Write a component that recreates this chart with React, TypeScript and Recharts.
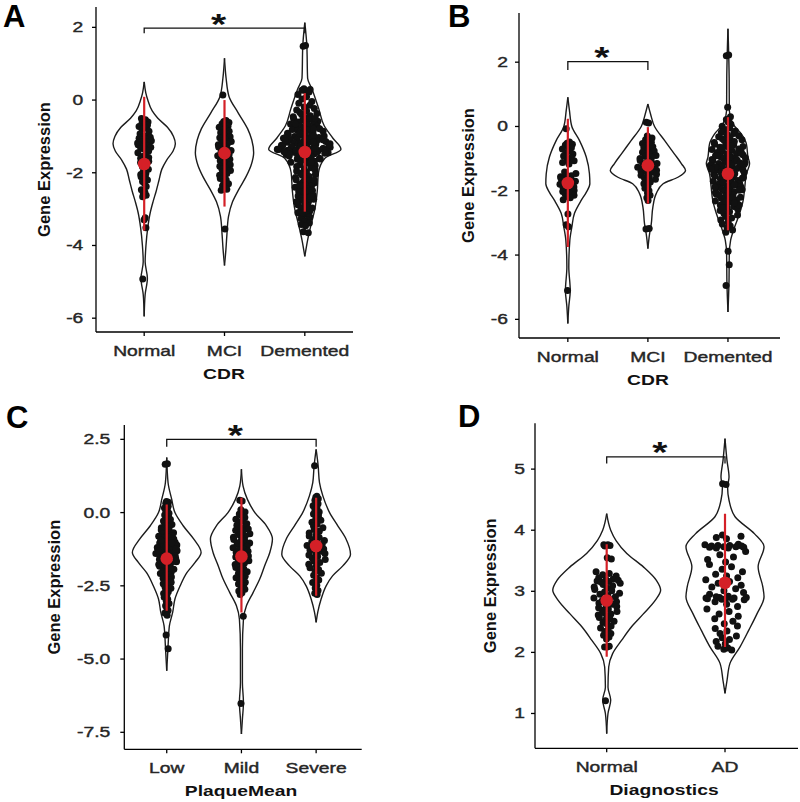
import React from "react";
import { ComposedChart, Scatter, XAxis, YAxis } from "recharts";

const W = 800;
const H = 802;
const AXIS_W = 50;
const AXIS_H = 40;
const FONT = "'Liberation Sans', Arial, Helvetica, sans-serif";
const RED = "#d42027";
const INK = "#1c1c1c";
const STRETCH = 1.33;

// categories
const CDR_LABELS = ["Normal", "MCI", "Demented"];
const PLAQUE_LABELS = ["Low", "Mild", "Severe"];
const DIAG_LABELS = ["Normal", "AD"];

// y ticks
const TICKS_A = [-6, -4, -2, 0, 2];
const TICKS_B = [-6, -4, -2, 0, 2];
const TICKS_C = [-7.5, -5, -2.5, 0, 2.5];
const TICKS_D = [1, 2, 3, 4, 5];

// violin outlines: [value, half width in category units]
type Profile = [number, number][];
const A_NORMAL_SHAPE: Profile = [[0.5, 0], [0.2, 0.02], [0, 0.045], [-0.3, 0.1], [-0.5, 0.17], [-0.75, 0.29], [-1.0, 0.365], [-1.2, 0.388], [-1.4, 0.36], [-1.65, 0.28], [-1.9, 0.22], [-2.2, 0.185], [-2.5, 0.15], [-2.8, 0.11], [-3.1, 0.075], [-3.5, 0.045], [-4.0, 0.022], [-4.45, 0.012], [-4.9, 0.04], [-5.35, 0.012], [-5.95, 0]];
const A_MCI_SHAPE: Profile = [[1.15, 0], [0.6, 0.02], [0.1, 0.056], [-0.35, 0.17], [-0.8, 0.29], [-1.1, 0.34], [-1.45, 0.363], [-1.8, 0.33], [-2.1, 0.27], [-2.45, 0.18], [-2.8, 0.1], [-3.2, 0.05], [-3.7, 0.03], [-4.1, 0.018], [-4.55, 0]];
const A_DEM_SHAPE: Profile = [[2.13, 0], [1.5, 0.025], [0.6, 0.035], [0.3, 0.09], [-0.25, 0.175], [-0.7, 0.24], [-1.05, 0.35], [-1.35, 0.45], [-1.6, 0.25], [-2.0, 0.17], [-2.5, 0.155], [-3.0, 0.125], [-3.45, 0.075], [-3.85, 0.035], [-4.3, 0]];
const B_NORMAL_SHAPE: Profile = [[0.91, 0], [0.5, 0.02], [0, 0.05], [-0.44, 0.146], [-0.95, 0.23], [-1.47, 0.27], [-1.78, 0.275], [-2.05, 0.23], [-2.3, 0.167], [-2.7, 0.083], [-3.13, 0.05], [-3.54, 0.025], [-4.37, 0.012], [-5.1, 0.03], [-5.6, 0.012], [-6.13, 0]];
const B_MCI_SHAPE: Profile = [[0.7, 0], [0.39, 0.033], [0, 0.083], [-0.44, 0.21], [-0.85, 0.33], [-1.16, 0.42], [-1.37, 0.47], [-1.58, 0.375], [-1.78, 0.19], [-2.09, 0.104], [-2.5, 0.0625], [-3.03, 0.042], [-3.34, 0.021], [-3.8, 0]];
const B_DEM_SHAPE: Profile = [[3.04, 0], [1.5, 0.015], [0.5, 0.017], [0.08, 0.0625], [-0.23, 0.167], [-0.54, 0.23], [-0.95, 0.25], [-1.16, 0.27], [-1.47, 0.23], [-1.89, 0.21], [-2.3, 0.19], [-2.7, 0.146], [-3.13, 0.083], [-3.54, 0.033], [-3.96, 0.017], [-4.9, 0.0125], [-5.77, 0]];
const C_LOW_SHAPE: Profile = [[1.88, 0], [1.02, 0.018], [0.45, 0.067], [0, 0.11], [-0.45, 0.22], [-0.9, 0.36], [-1.36, 0.46], [-1.7, 0.38], [-2.05, 0.27], [-2.5, 0.18], [-2.95, 0.11], [-3.4, 0.08], [-3.86, 0.036], [-4.55, 0.018], [-5.4, 0]];
const C_MILD_SHAPE: Profile = [[1.48, 0], [0.9, 0.022], [0.45, 0.08], [0, 0.18], [-0.45, 0.335], [-0.9, 0.415], [-1.36, 0.38], [-1.82, 0.31], [-2.27, 0.245], [-2.73, 0.156], [-3.18, 0.067], [-3.64, 0.027], [-4.66, 0.013], [-5.8, 0.013], [-6.48, 0.027], [-7.05, 0.013], [-7.56, 0]];
const C_SEV_SHAPE: Profile = [[2.16, 0], [1.6, 0.027], [1.02, 0.045], [0.57, 0.09], [0, 0.18], [-0.45, 0.29], [-0.9, 0.4], [-1.42, 0.46], [-1.82, 0.357], [-2.16, 0.22], [-2.5, 0.134], [-2.95, 0.067], [-3.4, 0.022], [-3.75, 0]];
const D_NORMAL_SHAPE: Profile = [[4.27, 0], [4.0, 0.034], [3.83, 0.079], [3.62, 0.17], [3.4, 0.31], [3.18, 0.42], [3.02, 0.456], [2.85, 0.41], [2.63, 0.31], [2.42, 0.21], [2.2, 0.127], [1.98, 0.05], [1.76, 0.017], [1.43, 0.011], [1.22, 0.034], [1.0, 0.011], [0.67, 0]];
const D_AD_SHAPE: Profile = [[5.5, 0], [5.14, 0.017], [4.87, 0.034], [4.7, 0.022], [4.49, 0.034], [4.22, 0.085], [3.94, 0.25], [3.73, 0.33], [3.4, 0.28], [3.07, 0.32], [2.91, 0.33], [2.63, 0.27], [2.36, 0.2], [2.09, 0.127], [1.82, 0.042], [1.54, 0.017], [1.33, 0]];

// individual samples
const A_NORMAL_DOTS = [-0.51, -0.54, -0.56, -0.6, -0.63, -0.65, -0.69, -0.73, -0.77, -0.8, -0.86, -0.93, -0.97, -1.0, -1.02, -1.05, -1.07, -1.1, -1.12, -1.14, -1.16, -1.18, -1.2, -1.23, -1.25, -1.28, -1.3, -1.33, -1.36, -1.4, -1.45, -1.52, -1.55, -1.58, -1.6, -1.63, -1.65, -1.68, -1.72, -1.77, -1.83, -1.9, -1.98, -2.02, -2.05, -2.08, -2.11, -2.14, -2.17, -2.2, -2.24, -2.29, -2.38, -2.47, -2.53, -2.58, -2.62, -2.66, -3.24, -3.29, -3.51, -4.92];
const A_MCI_DOTS = [0.14, -0.56, -0.59, -0.62, -0.65, -0.68, -0.72, -0.75, -0.79, -0.83, -0.86, -0.9, -0.94, -0.98, -1.01, -1.04, -1.08, -1.11, -1.14, -1.17, -1.2, -1.23, -1.26, -1.29, -1.33, -1.36, -1.39, -1.43, -1.46, -1.5, -1.53, -1.57, -1.6, -1.63, -1.67, -1.7, -1.74, -1.78, -1.82, -1.86, -1.9, -1.94, -1.98, -2.02, -2.07, -2.12, -2.16, -2.2, -2.25, -2.3, -2.36, -2.41, -2.45, -2.48, -3.55];
const A_DEM_DOTS = [1.48, 1.5, 0.31, 0.29, 0.27, 0.26, 0.22, 0.15, 0.09, 0.03, -0.04, -0.09, -0.14, -0.19, -0.23, -0.27, -0.3, -0.34, -0.37, -0.4, -0.43, -0.46, -0.48, -0.51, -0.53, -0.55, -0.58, -0.6, -0.62, -0.64, -0.66, -0.68, -0.7, -0.72, -0.74, -0.76, -0.77, -0.79, -0.81, -0.83, -0.84, -0.86, -0.88, -0.89, -0.91, -0.93, -0.94, -0.96, -0.97, -0.99, -1.0, -1.02, -1.03, -1.05, -1.06, -1.08, -1.09, -1.1, -1.12, -1.13, -1.14, -1.16, -1.17, -1.18, -1.2, -1.21, -1.22, -1.24, -1.25, -1.26, -1.27, -1.29, -1.3, -1.31, -1.32, -1.33, -1.35, -1.36, -1.37, -1.38, -1.38, -1.39, -1.4, -1.41, -1.42, -1.43, -1.44, -1.45, -1.47, -1.48, -1.5, -1.52, -1.54, -1.56, -1.58, -1.6, -1.63, -1.65, -1.68, -1.71, -1.74, -1.77, -1.8, -1.83, -1.86, -1.89, -1.92, -1.95, -1.98, -2.01, -2.04, -2.07, -2.1, -2.13, -2.16, -2.19, -2.22, -2.25, -2.28, -2.31, -2.34, -2.37, -2.4, -2.43, -2.46, -2.49, -2.52, -2.55, -2.58, -2.61, -2.64, -2.67, -2.7, -2.73, -2.76, -2.79, -2.82, -2.85, -2.88, -2.91, -2.94, -2.97, -3.0, -3.03, -3.06, -3.1, -3.14, -3.18, -3.22, -3.26, -3.3, -3.34, -3.38, -3.42, -3.46, -3.62, -3.65, -0.92, -0.98, -1.04, -1.07, -1.11, -1.15, -1.19, -1.23, -1.28, -1.3, -1.34, -1.36, -1.37, -1.39, -1.4, -1.41, -1.43, -1.44, -1.46, -1.49, -1.53, -1.57, -1.62, -1.67, -1.72, -1.35, -1.38, -1.42, -1.33, -1.26, -2.2, -2.35, -2.5, -2.65, -2.8, -2.95, -3.1, -0.5, -0.65, -0.8];
const B_NORMAL_DOTS = [-0.07, -0.48, -0.52, -0.55, -0.58, -0.62, -0.66, -0.7, -0.77, -0.82, -0.86, -0.92, -0.97, -1.02, -1.07, -1.12, -1.17, -1.42, -1.46, -1.5, -1.53, -1.56, -1.59, -1.62, -1.64, -1.67, -1.7, -1.72, -1.75, -1.77, -1.8, -1.82, -1.85, -1.88, -1.9, -1.93, -1.96, -1.99, -2.02, -2.06, -2.1, -2.14, -2.18, -2.22, -2.28, -2.72, -3.06, -3.12, -5.1];
const B_MCI_DOTS = [0.13, 0.11, -0.3, -0.36, -0.41, -0.45, -0.49, -0.53, -0.56, -0.6, -0.63, -0.66, -0.7, -0.73, -0.76, -0.8, -0.83, -0.86, -0.9, -0.93, -0.96, -1.0, -1.03, -1.06, -1.09, -1.12, -1.15, -1.18, -1.21, -1.24, -1.27, -1.3, -1.33, -1.36, -1.39, -1.42, -1.45, -1.49, -1.52, -1.56, -1.6, -1.64, -1.68, -1.73, -1.78, -1.85, -1.92, -2.0, -2.07, -2.14, -2.22, -2.3, -3.17, -3.19];
const B_DEM_DOTS = [2.2, 2.22, 0.6, 0.3, 0.22, 0.14, 0.07, 0.01, -0.05, -0.1, -0.14, -0.18, -0.22, -0.26, -0.29, -0.32, -0.35, -0.38, -0.41, -0.44, -0.47, -0.5, -0.52, -0.55, -0.57, -0.6, -0.62, -0.65, -0.67, -0.7, -0.72, -0.74, -0.77, -0.79, -0.81, -0.84, -0.86, -0.88, -0.9, -0.93, -0.95, -0.97, -0.99, -1.01, -1.03, -1.05, -1.07, -1.09, -1.11, -1.13, -1.15, -1.17, -1.19, -1.21, -1.23, -1.25, -1.27, -1.29, -1.31, -1.33, -1.35, -1.37, -1.39, -1.41, -1.43, -1.45, -1.47, -1.49, -1.52, -1.54, -1.56, -1.58, -1.61, -1.63, -1.65, -1.68, -1.7, -1.72, -1.75, -1.77, -1.8, -1.82, -1.85, -1.87, -1.9, -1.92, -1.95, -1.97, -2.0, -2.03, -2.05, -2.08, -2.11, -2.14, -2.17, -2.2, -2.23, -2.26, -2.29, -2.32, -2.35, -2.38, -2.42, -2.45, -2.49, -2.53, -2.57, -2.61, -2.65, -2.7, -2.75, -2.8, -2.85, -2.91, -2.97, -3.03, -3.09, -3.15, -3.22, -3.29, -3.88, -4.3, -4.95, -0.61, -0.68, -0.83, -0.91, -1.04, -1.12, -1.18, -1.26, -1.38, -1.46, -1.59, -1.66, -1.81, -1.88, -2.02, -2.09, -2.21, -2.33, -2.44, -2.52, -0.96, -1.14, -1.33, -1.57, -1.74, -1.98, -2.13, -2.37];
const C_LOW_DOTS = [1.65, 1.67, 0.38, 0.35, 0.32, 0.28, 0.22, 0.16, 0.1, 0.04, -0.02, -0.08, -0.14, -0.19, -0.24, -0.29, -0.33, -0.37, -0.41, -0.45, -0.49, -0.52, -0.56, -0.59, -0.62, -0.66, -0.69, -0.72, -0.75, -0.78, -0.81, -0.84, -0.87, -0.9, -0.93, -0.96, -0.98, -1.01, -1.04, -1.06, -1.09, -1.11, -1.14, -1.16, -1.19, -1.21, -1.23, -1.26, -1.28, -1.3, -1.33, -1.35, -1.37, -1.4, -1.42, -1.44, -1.47, -1.49, -1.52, -1.54, -1.57, -1.6, -1.62, -1.65, -1.68, -1.71, -1.74, -1.77, -1.8, -1.83, -1.86, -1.9, -1.93, -1.97, -2.0, -2.04, -2.08, -2.12, -2.16, -2.2, -2.24, -2.29, -2.33, -2.38, -2.43, -2.48, -2.53, -2.58, -2.64, -2.7, -2.76, -2.82, -2.89, -2.96, -3.03, -3.1, -3.18, -3.26, -3.34, -3.43, -3.5, -4.18, -4.65, -0.94, -1.03, -1.17, -1.24, -1.31, -1.46, -1.53, -1.66, -1.79, -1.91];
const C_MILD_DOTS = [0.42, 0.4, 0.1, 0.02, -0.05, -0.11, -0.17, -0.23, -0.28, -0.33, -0.38, -0.43, -0.48, -0.52, -0.56, -0.6, -0.64, -0.68, -0.72, -0.76, -0.8, -0.84, -0.88, -0.92, -0.96, -1.0, -1.04, -1.08, -1.12, -1.16, -1.2, -1.24, -1.28, -1.32, -1.36, -1.4, -1.44, -1.48, -1.52, -1.56, -1.6, -1.64, -1.68, -1.72, -1.77, -1.82, -1.87, -1.92, -1.97, -2.02, -2.07, -2.12, -2.17, -2.22, -2.27, -2.32, -2.38, -2.44, -2.5, -2.56, -2.62, -2.68, -2.74, -2.8, -3.54, -6.52];
const C_SEV_DOTS = [1.6, 0.56, 0.52, 0.47, 0.42, 0.36, 0.3, 0.23, 0.16, 0.09, 0.02, -0.05, -0.12, -0.19, -0.26, -0.33, -0.4, -0.46, -0.52, -0.58, -0.64, -0.7, -0.75, -0.8, -0.85, -0.9, -0.95, -1.0, -1.04, -1.08, -1.12, -1.16, -1.2, -1.24, -1.28, -1.32, -1.36, -1.4, -1.45, -1.5, -1.55, -1.6, -1.65, -1.7, -1.76, -1.82, -1.88, -1.94, -2.0, -2.07, -2.14, -2.22, -2.3, -2.39, -2.48, -2.57, -2.66, -2.75, -2.8];
const D_NORMAL_DOTS = [3.76, 3.76, 3.75, 3.75, 3.74, 3.55, 3.53, 3.32, 3.29, 3.27, 3.25, 3.22, 3.2, 3.19, 3.18, 3.17, 3.16, 3.15, 3.13, 3.11, 3.09, 3.07, 3.05, 3.03, 3.01, 2.99, 2.97, 2.95, 2.93, 2.91, 2.89, 2.87, 2.85, 2.83, 2.81, 2.79, 2.77, 2.75, 2.73, 2.71, 2.69, 2.67, 2.65, 2.63, 2.61, 2.59, 2.57, 2.55, 2.53, 2.51, 2.49, 2.46, 2.43, 2.4, 2.37, 2.34, 2.31, 2.28, 2.25, 2.22, 2.1, 2.09, 2.09, 1.21];
const D_AD_DOTS = [4.76, 4.75, 3.92, 3.9, 3.88, 3.86, 3.77, 3.76, 3.75, 3.75, 3.74, 3.74, 3.73, 3.73, 3.72, 3.72, 3.71, 3.71, 3.65, 3.6, 3.56, 3.52, 3.48, 3.44, 3.4, 3.36, 3.32, 3.28, 3.25, 3.22, 3.19, 3.16, 3.13, 3.1, 3.07, 3.04, 3.01, 2.98, 2.95, 2.92, 2.91, 2.9, 2.9, 2.89, 2.89, 2.88, 2.88, 2.87, 2.87, 2.86, 2.83, 2.79, 2.75, 2.71, 2.67, 2.63, 2.59, 2.55, 2.51, 2.47, 2.43, 2.39, 2.35, 2.31, 2.27, 2.24, 2.21, 2.18, 2.14, 2.1, 2.07, 2.05, 2.04];

// group means and red bar ends
const A_MEAN = [-1.76, -1.46, -1.43];
const A_LOW = [-3.59, -2.93, -3.07];
const A_HIGH = [0.09, 0.0, 0.19];
const B_MEAN = [-1.76, -1.21, -1.47];
const B_LOW = [-3.75, -2.4, -3.23];
const B_HIGH = [0.24, -0.02, 0.29];
const C_MEAN = [-1.57, -1.5, -1.14];
const C_LOW = [-3.35, -3.41, -2.84];
const C_HIGH = [0.28, 0.51, 0.51];
const D_MEAN = [2.85, 3.14];
const D_LOW = [1.93, 2.09];
const D_HIGH = [3.77, 4.27];

// significance brackets: from, to, level, tip end
const A_SIG = [1, 3, 1.98, 1.84];
const B_SIG = [1, 2, 2.02, 1.76];
const C_SIG = [1, 3, 2.5, 2.25];
const D_SIG = [1, 2, 5.2, 5.09];

// horizontal jitter pattern for the dots
const JITTER = [-0.82, 0.35, -0.15, 0.91, -0.48, 0.08, 0.64, -0.95, 0.22, -0.33, 0.77, -0.62, 0.5, -0.05, 0.86, -0.71, 0.15, -0.4, 0.98, -0.25, 0.42, -0.88, 0.03];

type Group = { dots: number[]; shape: Profile; spread: number };
type Panel = {
  letter: string;
  letterPos: [number, number];
  labels: string[];
  xTitle: string;
  xTitleX: number;
  yTicks: number[];
  digits: number;
  groups: Group[];
  mean: number[];
  low: number[];
  high: number[];
  sig: number[];
  box: { left: number; right: number; top: number; bottom: number };
  xDomain: [number, number];
  yDomain: [number, number];
  tickGap: number;
  yTitleX: number;
};

const PANELS: Panel[] = [
  {
    letter: "A", letterPos: [3, 27], labels: CDR_LABELS, xTitle: "CDR", xTitleX: 224,
    yTicks: TICKS_A, digits: 0,
    groups: [
      { dots: A_NORMAL_DOTS, shape: A_NORMAL_SHAPE, spread: 0.24 },
      { dots: A_MCI_DOTS, shape: A_MCI_SHAPE, spread: 0.25 },
      { dots: A_DEM_DOTS, shape: A_DEM_SHAPE, spread: 0.8 },
    ],
    mean: A_MEAN, low: A_LOW, high: A_HIGH, sig: A_SIG,
    box: { left: 96, right: 353, top: 7, bottom: 332 },
    xDomain: [0.4, 3.6], yDomain: [-6.38, 2.56], tickGap: 12.7, yTitleX: 49.5,
  },
  {
    letter: "B", letterPos: [448, 27], labels: CDR_LABELS, xTitle: "CDR", xTitleX: 648,
    yTicks: TICKS_B, digits: 0,
    groups: [
      { dots: B_NORMAL_DOTS, shape: B_NORMAL_SHAPE, spread: 0.38 },
      { dots: B_MCI_DOTS, shape: B_MCI_SHAPE, spread: 0.3 },
      { dots: B_DEM_DOTS, shape: B_DEM_SHAPE, spread: 0.88 },
    ],
    mean: B_MEAN, low: B_LOW, high: B_HIGH, sig: B_SIG,
    box: { left: 519, right: 780, top: 13, bottom: 338 },
    xDomain: [0.39, 3.65], yDomain: [-6.58, 3.53], tickGap: 11, yTitleX: 474,
  },
  {
    letter: "C", letterPos: [6, 428], labels: PLAQUE_LABELS, xTitle: "PlaqueMean", xTitleX: 241,
    yTicks: TICKS_C, digits: 1,
    groups: [
      { dots: C_LOW_DOTS, shape: C_LOW_SHAPE, spread: 0.34 },
      { dots: C_MILD_DOTS, shape: C_MILD_SHAPE, spread: 0.3 },
      { dots: C_SEV_DOTS, shape: C_SEV_SHAPE, spread: 0.3 },
    ],
    mean: C_MEAN, low: C_LOW, high: C_HIGH, sig: C_SIG,
    box: { left: 124.3, right: 361.7, top: 425, bottom: 749.3 },
    xDomain: [0.432, 3.61], yDomain: [-8.08, 2.99], tickGap: 14, yTitleX: 59.5,
  },
  {
    letter: "D", letterPos: [458, 427], labels: DIAG_LABELS, xTitle: "Diagnostics", xTitleX: 664,
    yTicks: TICKS_D, digits: 0,
    groups: [
      { dots: D_NORMAL_DOTS, shape: D_NORMAL_SHAPE, spread: 0.27 },
      { dots: D_AD_DOTS, shape: D_AD_SHAPE, spread: 0.56 },
    ],
    mean: D_MEAN, low: D_LOW, high: D_HIGH, sig: D_SIG,
    box: { left: 535, right: 798, top: 423.3, bottom: 748.3 },
    xDomain: [0.394, 2.617], yDomain: [0.43, 5.75], tickGap: 10, yTitleX: 496,
  },
];

function widthAt(shape: Profile, v: number) {
  for (let i = 0; i < shape.length - 1; i++) {
    const [v0, w0] = shape[i];
    const [v1, w1] = shape[i + 1];
    if (v <= v0 && v >= v1) return w0 + ((v0 - v) / (v0 - v1)) * (w1 - w0);
  }
  return 0;
}

const noDot = () => <g />;
const blackDot = (p: any) => <circle cx={p.cx} cy={p.cy} r={3.5} fill="#111" />;
const meanDot = (p: any) => <circle cx={p.cx} cy={p.cy} r={6.3} fill={RED} />;
const star = (p: any) => (
  <text
    transform={`translate(${p.cx - 6},${p.cy + 5.6}) scale(1.3,1)`}
    textAnchor="middle"
    fontFamily={FONT}
    fontWeight="bold"
    fontSize={30}
    fill="#111"
  >
    *
  </text>
);

function XTick(props: any) {
  const { x, payload, labels, baseY } = props;
  return (
    <text
      transform={`translate(${x},${baseY}) scale(${STRETCH},1)`}
      textAnchor="middle"
      fontFamily={FONT}
      fontSize={14.5}
      fill="#262626"
      stroke="#262626"
      strokeWidth={0.4}
    >
      {labels[Math.round(payload.value) - 1]}
    </text>
  );
}

function YTick(props: any) {
  const { y, payload, rightX, digits } = props;
  return (
    <text
      transform={`translate(${rightX},${y + 5}) scale(${STRETCH},1)`}
      textAnchor="end"
      fontFamily={FONT}
      fontSize={14.5}
      fill="#262626"
      stroke="#262626"
      strokeWidth={0.4}
    >
      {Number(payload.value).toFixed(digits)}
    </text>
  );
}

function ViolinPanel({ p }: { p: Panel }) {
  const { box } = p;
  const margin = {
    left: box.left - AXIS_W,
    right: W - box.right,
    top: box.top,
    bottom: H - box.bottom - AXIS_H,
  };
  const meanData = p.mean.map((m, i) => ({ x: i + 1, y: m }));
  const [from, to, level, tip] = p.sig;
  const bracket = [
    { x: from, y: tip },
    { x: from, y: level },
    { x: to, y: level },
    { x: to, y: tip },
  ];
  const starData = [{ x: (from + to) / 2, y: level }];
  const axisStyle = { stroke: "#000", strokeWidth: 1.3 };

  const outlines = p.groups.flatMap((g, i) =>
    [-1, 1].map((side) => (
      <Scatter
        key={`v${i}${side}`}
        data={g.shape.map(([v, w]) => ({ x: i + 1 + side * w, y: v }))}
        fill={INK}
        line={{ stroke: INK, strokeWidth: 1.4 }}
        lineJointType="monotoneY"
        shape={noDot}
        isAnimationActive={false}
      />
    ))
  );
  const dots = p.groups.map((g, i) => (
    <Scatter
      key={`d${i}`}
      data={g.dots.map((v, k) => ({
        x: i + 1 + JITTER[k % JITTER.length] * Math.max(widthAt(g.shape, v) * g.spread, 0.025),
        y: v,
      }))}
      shape={blackDot}
      isAnimationActive={false}
    />
  ));
  const bars = p.mean.map((_, i) => (
    <Scatter
      key={`e${i}`}
      data={[
        { x: i + 1, y: p.low[i] },
        { x: i + 1, y: p.high[i] },
      ]}
      fill={RED}
      line={{ stroke: RED, strokeWidth: 2.2 }}
      shape={noDot}
      isAnimationActive={false}
    />
  ));

  return (
    <div style={{ position: "absolute", left: 0, top: 0 }}>
      <ComposedChart width={W} height={H} margin={margin}>
        <XAxis
          type="number"
          dataKey="x"
          domain={p.xDomain}
          allowDataOverflow
          ticks={p.labels.map((_, i) => i + 1)}
          interval={0}
          height={AXIS_H}
          tickSize={4}
          axisLine={axisStyle}
          tickLine={axisStyle}
          tick={<XTick labels={p.labels} baseY={box.bottom + 23.5} />}
          label={() => (
            <g>
              <text
                transform={`translate(${p.xTitleX},${box.bottom + 47}) scale(${STRETCH},1)`}
                textAnchor="middle"
                fontFamily={FONT}
                fontWeight="bold"
                fontSize={14.5}
                fill="#111"
              >
                {p.xTitle}
              </text>
              <text x={p.letterPos[0]} y={p.letterPos[1]} fontFamily={FONT} fontWeight="bold" fontSize={31} fill="#000">
                {p.letter}
              </text>
            </g>
          )}
        />
        <YAxis
          type="number"
          dataKey="y"
          domain={p.yDomain}
          allowDataOverflow
          ticks={p.yTicks}
          interval={0}
          width={AXIS_W}
          tickSize={4}
          axisLine={axisStyle}
          tickLine={axisStyle}
          tick={<YTick rightX={box.left - p.tickGap} digits={p.digits} />}
          label={() => (
            <text
              transform={`translate(${p.yTitleX},${(box.top + box.bottom) / 2}) rotate(-90)`}
              textAnchor="middle"
              fontFamily={FONT}
              fontWeight="bold"
              fontSize={16.5}
              fill="#111"
            >
              Gene Expression
            </text>
          )}
        />
        {outlines}
        {dots}
        {bars}
        <Scatter data={meanData} shape={meanDot} isAnimationActive={false} />
        <Scatter
          data={bracket}
          fill="#111"
          line={{ stroke: "#111", strokeWidth: 1.3 }}
          shape={noDot}
          isAnimationActive={false}
        />
        <Scatter data={starData} shape={star} isAnimationActive={false} />
      </ComposedChart>
    </div>
  );
}

export default function App() {
  return (
    <div style={{ position: "fixed", left: 0, top: 0, width: W, height: H, background: "#fff" }}>
      {PANELS.map((p) => (
        <ViolinPanel key={p.letter} p={p} />
      ))}
    </div>
  );
}
